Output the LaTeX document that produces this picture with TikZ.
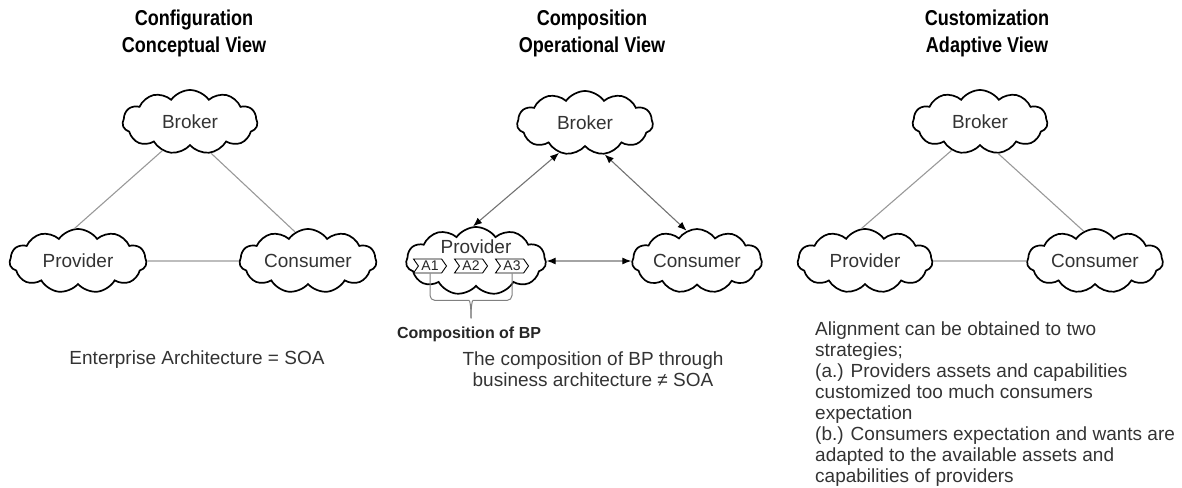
\documentclass[tikz,border=0pt]{standalone}
\usepackage{fontspec}
\setmainfont{Liberation Sans}
\newfontfamily\viewfont[FakeStretch=0.84]{Liberation Sans}
\usetikzlibrary{shapes.symbols,arrows.meta,calc}

\begin{document}
\begin{tikzpicture}[x=1pt,y=-1pt,
  viewtitle/.style={font=\viewfont\fontsize{21.5}{27}\selectfont\bfseries, align=center, anchor=north, inner sep=0pt, text=black},
  bodytext/.style={font=\fontsize{19}{21}\selectfont, text=black!80, inner sep=0pt},
  party/.style={cloud, cloud puffs=11, cloud puff arc=110, cloud ignores aspect,
    draw=black, line width=1.7pt, fill=white, minimum width=#1, minimum height=64pt,
    inner sep=0pt, font=\fontsize{19}{20}\selectfont, text=black!80},
  party/.default=135pt,
  link/.style={draw=black!40, line width=1.1pt},
  twoway/.style={draw=black!55, line width=1.1pt,
    {Latex[black,length=9pt,width=7pt]}-{Latex[black,length=9pt,width=7pt]}},
  activity/.style={signal, signal from=west, signal to=east, signal pointer angle=110,
    draw=black, line width=0.9pt, fill=white, minimum width=33pt, minimum height=14pt,
    inner sep=0.5pt, font=\fontsize{14}{14}\selectfont, text=black!85},
  bracket/.style={draw=black!50, line width=1pt}
]
\useasboundingbox (0,0) rectangle (1182,487);

% ---- titles ----
\node[viewtitle] (t1) at (194,10) {Configuration\\Conceptual View};
\node[viewtitle] (t2) at (592,10) {Composition\\Operational View};
\node[viewtitle] (t3) at (987,10) {Customization\\Adaptive View};

% ---- configuration: conceptual view ----
\node[party] (b1) at (190,122) {Broker};
\node[party=137pt] (p1) at (78,261) {Provider};
\node[party=137pt] (c1) at (308,261) {Consumer};
\draw[link] (b1.226) -- (p1.96);
\draw[link] (b1.304) -- (c1.114);
\draw[link] (p1.east) -- (c1.west);
\node[bodytext] (n1) at (197,360) {Enterprise Architecture = SOA};

% ---- composition: operational view ----
\node[party=136pt] (b2) at (585,123) {Broker};
\node[party=140pt, minimum height=68pt] (p2) at (476,261) {};
\node[party=130pt] (c2) at (697,261) {Consumer};
\node[bodytext, text=black!80] (p2l) at ($(p2)+(0,-14)$) {Provider};
\node[activity] (a1) at ($(p2)+(-46,5)$) {A1};
\node[activity] (a2) at ($(p2)+(-5,5)$) {A2};
\node[activity] (a3) at ($(p2)+(36,5)$) {A3};
\draw[twoway] (b2.229) -- (p2.95);
\draw[twoway] (b2.302) -- (c2.109);
\draw[twoway] (p2.east) -- (c2.west);

% brace gathering the activities
\coordinate (bm) at ($(a1.south)!0.5!(a3.south)$);
\draw[bracket, rounded corners=5pt] (a1.south) |- ($(bm)+(-7,27)$)
  .. controls ($(bm)+(-1,27)$) and ($(bm)+(0,33)$) .. ($(bm)+(0,45)$);
\draw[bracket, rounded corners=5pt] (a3.south) |- ($(bm)+(7,27)$)
  .. controls ($(bm)+(1,27)$) and ($(bm)+(0,33)$) .. ($(bm)+(0,45)$);
\node[font=\fontsize{16}{16}\selectfont\bfseries, text=black!85, inner sep=0pt] (bp) at (469,334) {Composition of BP};
\node[bodytext, align=center] (n2) at (593,369) {The composition of BP through\\business architecture ≠ SOA};

% ---- customization: adaptive view ----
\node[party] (b3) at (980,122) {Broker};
\node[party] (p3) at (865,261) {Provider};
\node[party=136pt] (c3) at (1095,261) {Consumer};
\draw[link] (b3.225) -- (p3.96);
\draw[link] (b3.300) -- (c3.111);
\draw[link] (p3.east) -- (c3.west);
\node[bodytext, align=left, anchor=north west] (n3) at (815,322)
  {Alignment can be obtained to two\\
   strategies;\\
   (a.) Providers assets and capabilities\\
   customized too much consumers\\
   expectation\\
   (b.) Consumers expectation and wants are\\
   adapted to the available assets and\\
   capabilities of providers};
\end{tikzpicture}
\end{document}
